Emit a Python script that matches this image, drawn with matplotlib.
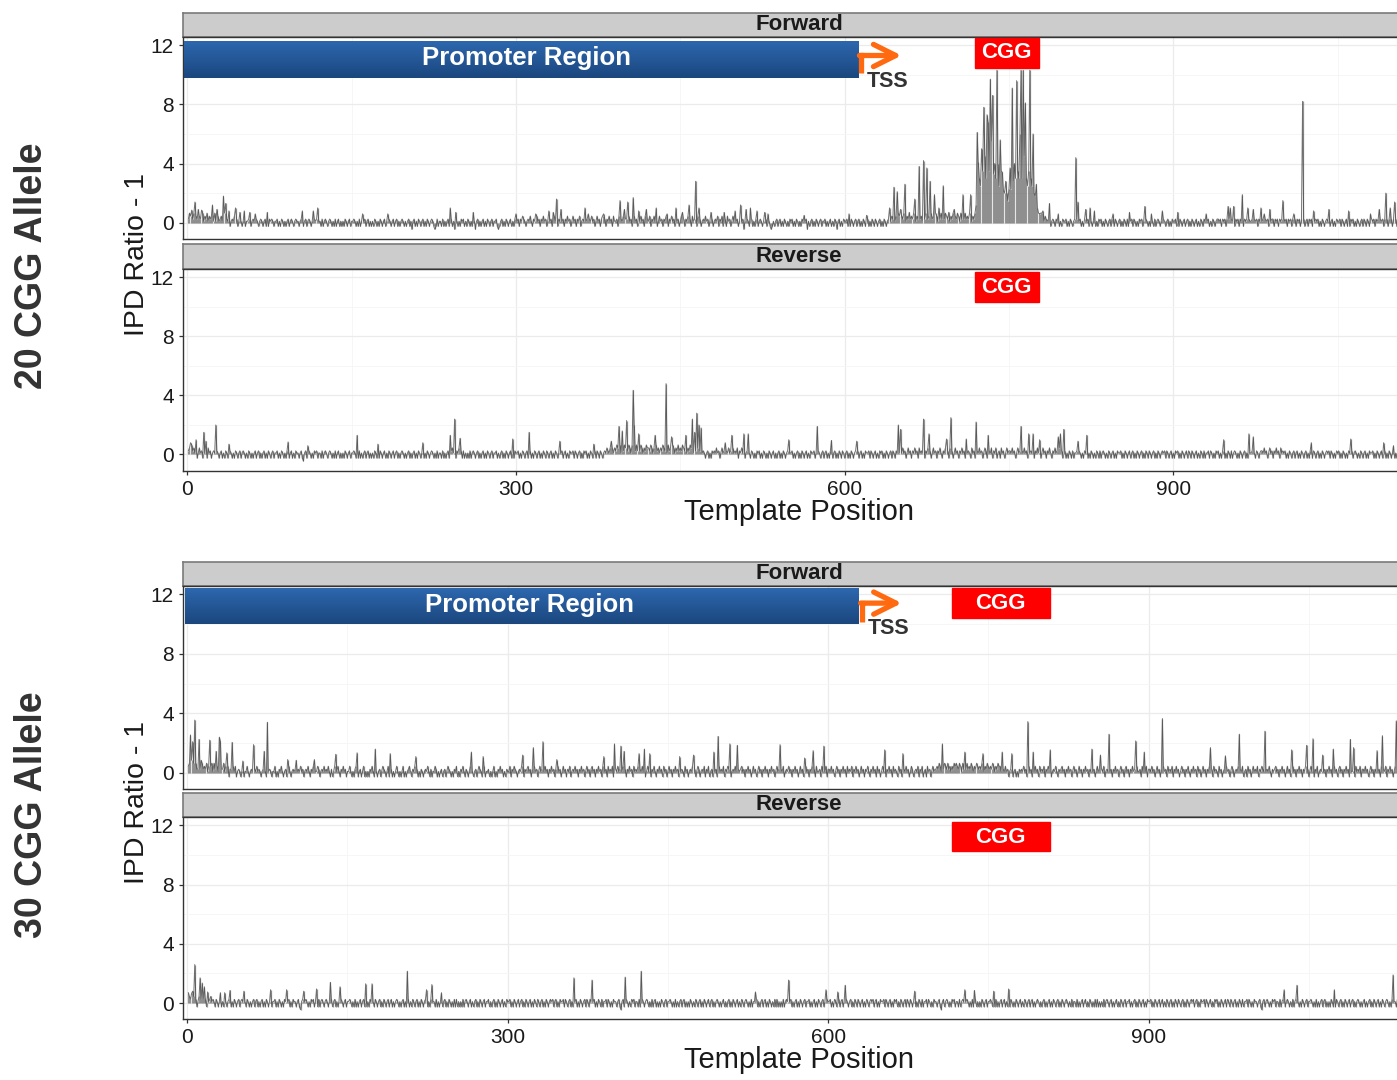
import numpy as np
import matplotlib
matplotlib.use('Agg')
import matplotlib.pyplot as plt
from matplotlib.colors import LinearSegmentedColormap
from matplotlib.patches import Rectangle

plt.rcParams['font.family'] = ['Liberation Sans', 'DejaVu Sans']

# ---- data (IPD ratio - 1 per template position) ----
# baseline strings: one digit per position, looked up in base_levels
base_levels = {'0': -0.45, '1': -0.25, '2': 0.1, '3': 0.25, '4': 0.45, '5': 0.65, '6': 0.85}
tf_base = [
    "3546352433 4365243524 3452523423 4235232312 3242312321 2312232123 2132123212 3121323212 2312132121 2312321232",
    "2123212312 3212132312 2131232123 2121312312 1213212312 2321213121 2312312121 3212132123 1213212312 3121232121",
    "2312023121 3212312132 1232101312 2131212312 3120321213 2312132121 3202312123 1213212312 2310123121 3212312132",
    "2313243212 3242132342 3132423124 2312423132 4231324231 2423132412 3242313242 3124231342 3132423142 2314232413",
    "3242312423 1324231423 2413242312 4231324213 2423142312 4231324231 4232142312 3242312431 2324132412 3142312423",
    "2312123021 3212312132 1232121312 2101212312 3121321213 2312132121 3212302123 1213212312 2312123121 3202312132",
    "2312132123 1231213212 3121321321 2312132123 3243424354 3435424353 4354243534 2435434253 4354243534 3543524354",
    "4354253435 3435424354 5555555555 5555555555 5555555555 5555555555 5555555555 5555555555 3243232123 2132312132",
    "2312132123 2312312132 2313212312 1323121321 2313213212 3121321312 2313212132 3121321213 2131232121 3212312132",
    "2312132123 1231213212 3121321321 2312132123 3231323132 3132313231 3231323132 2313231323 2313231323 3132313231",
    "3231323132 3132313231 2313231323 2312132123 2312312132 2313212312 1323121321 2313213212 3231323132 3132313231",
    "3231323132",
]
tf_spike_pos = [7, 10, 23, 27, 33, 35, 38, 44, 48, 52, 57, 62, 73, 105, 115, 119, 160, 183, 240, 245,
                261, 300, 318, 330, 334, 337, 341, 363, 366, 380, 395, 399, 402, 407, 412, 419, 428, 438, 446, 452,
                458, 464, 467, 478, 490, 500, 505, 510, 514, 520, 527, 530, 563, 604, 620, 641, 645, 648, 651, 655,
                659, 664, 668, 672, 675, 678, 682, 686, 690, 695, 700, 708, 715,
                778, 781, 787, 795, 811, 813, 820, 824, 828, 845, 860, 874, 880, 890, 904, 930, 950, 952, 955, 963,
                968, 973, 980, 983, 988, 1000, 1010, 1018, 1028, 1042, 1060, 1080, 1088, 1094, 1098, 1102]
tf_spike_val = [1.4, 0.9, 1.2, 0.9, 1.8, 1.3, 0.8, 1.0, 0.7, 0.8, 0.7, 0.6, 0.7, 0.8, 0.8, 1.0, 0.6, 0.6, 1.0, 0.7,
                0.7, 0.6, 0.6, 0.8, 0.7, 1.6, 0.9, 1.0, 0.6, 0.6, 1.5, 0.9, 1.4, 1.7, 0.8, 0.9, 1.0, 0.6, 1.0, 0.7,
                1.2, 2.8, 1.0, 0.7, 0.7, 0.8, 1.2, 0.9, 1.0, 0.8, 0.7, 0.6, 0.5, 0.6, 0.5, 1.0, 2.4, 2.1, 0.9, 2.6,
                0.7, 1.6, 3.8, 4.2, 3.7, 2.8, 1.9, 1.0, 2.5, 0.7, 0.9, 1.9, 1.9,
                0.6, 0.8, 1.3, 0.6, 4.4, 1.4, 0.9, 1.0, 0.8, 0.6, 0.7, 1.1, 0.6, 0.8, 0.7, 0.6, 1.1, 1.0, 1.1, 1.9,
                1.0, 0.9, 1.0, 0.6, 0.9, 1.5, 0.6, 8.2, 0.8, 0.9, 0.8, 0.6, 0.9, 2.0, 1.0, 1.4]
# forward strand inside the CGG repeat, positions 720..776
tf_cgg_start = 720
tf_cgg_val = [1.2, 6.1, 4.1, 3.0, 2.5, 5.0, 3.5, 7.8, 4.5, 3.0, 7.3, 6.8, 3.5, 9.7, 5.5, 8.6, 3.3, 4.0, 3.0, 10.3,
              4.0, 2.5, 5.6, 3.5, 3.4, 2.2, 2.0, 2.8, 2.0, 1.5, 2.3, 3.7, 2.3, 9.1, 2.8, 4.0, 3.0, 9.6, 3.5, 3.0,
              6.0, 10.3, 3.0, 10.3, 4.5, 8.1, 3.0, 2.5, 3.5, 10.3, 3.0, 2.5, 6.0, 2.0, 1.8, 2.6, 1.0]

tr_base = [
    "3425342312 4231323142 3123213212 3121321232 1213212312 3212132121 2312312123 1213212312 2312132121 3212312132",
    "2123102312 3212132312 2131232123 2121312312 1213212312 2321213121 2312312121 3212132123 1213212312 3121232121",
    "2312123121 3212312132 1232121312 2131212312 3423132423 1312121312 3212312123 1213212312 2312123121 3212312132",
    "2312132123 1231213212 3121321321 2312132123 2312312132 2313212312 1323121321 2313213212 3243243424 3543524354",
    "4354253435 3435424354 4354243534 2435434253 4354243534 3543524354 4243242312 3212312132 3242312423 1324231423",
    "2413242312 3121321213 2312132121 3212312123 1213212312 2312123121 3212312132 2312132123 1231213212 3121321321",
    "2312132123 2312312132 2313212312 1323121321 2313213212 3242312423 1324231423 2413242312 4231324213 2423142312",
    "4231324231 4232142312 3242312431 2324132412 3142312423 3242312423 1324231423 2413242312 4231324213 2423142312",
    "3121321312 2313212132 3121321213 2131232121 3212312132 2312132123 1231213212 3121321321 2312132123 2313212312",
    "1323121321 2313213212 3121321312 2313212132 3121321213 2131232121 3212312132 2312132123 3242312423 1324231423",
    "2312132123 1231213212 3121321321 2312132123 2313212132 3121321213 2131232121 3212312132 2312132123 1231213212",
    "3121321321",
]
tr_spike_pos = [3, 8, 15, 17, 26, 38, 92, 110, 155, 174, 215, 240, 244, 249, 297, 312, 340, 371, 387, 394,
                397, 401, 407, 408, 412, 427, 437, 442, 455, 461, 463, 465, 467, 469, 491, 497, 508, 512, 549, 575,
                588, 611, 649, 651, 672, 677, 693, 697, 711, 720, 731, 761, 768, 772, 778, 795, 797, 800, 813, 821,
                946, 969, 973, 1026, 1062, 1092, 1101]
tr_spike_val = [0.8, 1.0, 1.5, 0.9, 2.0, 0.7, 0.85, 0.6, 1.3, 0.7, 0.8, 1.3, 2.4, 1.1, 1.05, 1.5, 0.9, 0.7, 0.9, 1.9,
                1.6, 2.3, 4.35, 2.0, 1.4, 1.3, 4.8, 1.2, 1.3, 2.4, 1.5, 2.8, 2.0, 1.8, 0.8, 1.3, 1.4, 1.4, 1.0, 1.9,
                0.95, 0.9, 2.0, 1.7, 2.4, 1.4, 1.05, 2.5, 1.05, 2.2, 1.3, 1.9, 1.4, 1.4, 1.0, 1.2, 1.4, 1.7, 0.9, 1.3,
                1.0, 1.4, 1.2, 0.8, 1.05, 0.8, 0.6]

bf_base = [
    "4546354533 4365343524 4452534423 4335242413 3242412321 2412242123 2132423212 3121423212 2412132421 2312421232",
    "3123242312 3242132412 2431232423 2421312412 4213242312 2421213421 2312412121 3242132123 1243212412 3121242121",
    "2412123421 3242312132 1232421312 2431212312 3124321213 2412132421 3212412123 1243212412 2312124121 3242312132",
    "2413243212 3242132342 3132423124 2312423132 4231324231 2423132412 3242313242 3124231342 3132423142 2314232413",
    "3242312423 1324231423 2413242312 4231324213 2423142312 4231324231 4232142312 3242312431 2324132412 3142312423",
    "2413243212 3242132342 3132423124 2312423132 4231324231 2423132412 3242313242 3124231342 3132423142 2314232413",
    "3242312423 1324231423 2413242312 4231324213 2423142312 4231324231 4232142312 3242312431 2324132412 3142312423",
    "3435424354 3534243545 4354253435 3435424354 3435424354 3435424354 4243242312 3212312132 3242312423 1324231423",
    "2413243212 3242132342 3132423124 2312423132 4231324231 2423132412 3242313242 3124231342 3132423142 2314232413",
    "3242312423 1324231423 2413242312 4231324213 2423142312 4231324231 4232142312 3242312431 2324132412 3142312423",
    "2413243212 3242132342 3132423124 2312423132 4231324231 2423132412 3242313242 3124231342 3132423142 2314232413",
    "3242312423 1324231423 2413242312 4231324213",
]
bf_spike_pos = [3, 5, 7, 11, 21, 27, 30, 31, 37, 42, 52, 62, 72, 75, 94, 102, 119, 139, 159, 176,
                190, 214, 266, 277, 314, 324, 333, 346, 390, 400, 406, 409, 423, 428, 433, 461, 474, 493, 497, 508,
                515, 555, 578, 586, 596, 653, 670, 707, 728, 745, 763, 772, 787, 792, 808, 847, 855, 863, 888, 896,
                913, 958, 972, 985, 1009, 1034, 1048, 1054, 1063, 1073, 1089, 1092, 1114, 1119, 1132]
bf_spike_val = [2.55, 2.1, 3.55, 2.25, 2.2, 1.45, 2.4, 2.15, 1.35, 2.05, 0.8, 1.9, 1.45, 3.4, 0.9, 0.85, 0.9, 1.25, 1.35, 1.6,
                1.3, 1.1, 1.4, 1.1, 1.2, 1.7, 2.1, 0.9, 1.1, 1.95, 1.8, 1.45, 1.3, 1.6, 1.3, 1.1, 1.2, 1.4, 2.45, 1.95,
                1.85, 1.9, 1.0, 1.5, 1.8, 1.55, 1.3, 1.95, 1.4, 1.3, 1.4, 1.3, 3.45, 1.4, 1.55, 1.6, 1.2, 2.6, 2.15, 1.4,
                3.65, 1.7, 1.15, 2.6, 2.8, 1.55, 1.85, 2.3, 1.2, 1.6, 2.25, 1.7, 1.5, 2.5, 3.5]

br_base = [
    "3435343312 4231323142 3423213212 3121321232 1213212312 3212132121 2312312123 1213212312 2312132121 3212312132",
    "2123102312 3212132312 2131232123 2121312312 1213212312 2321213121 2312312121 3212132123 1213212312 3121232121",
    "2312123121 3212312132 1232121312 2131212312 3121321213 1312121312 3212312123 1213212312 2312123121 3212312132",
    "2312132123 1231213212 3121321321 2312132123 2312312132 2313212312 1323121321 2313213212 3121321312 2313212132",
    "2123102312 3212132312 2131232123 2121312312 1213212312 2321213121 2312312121 3212132123 1213212312 3121232121",
    "2312123121 3212312132 1232121312 2131212312 3121321213 1312121312 3212312123 1213212312 2312123121 3212312132",
    "2312132123 1231213212 3121321321 2312132123 2312312132 2313212312 1323121321 2313213212 3121321312 2313212132",
    "2123102312 3212132312 2131232123 2121312312 1213212312 2321213121 2312312121 3212132123 1213212312 3121232121",
    "2312123121 3212312132 1232121312 2131212312 3121321213 1312121312 3212312123 1213212312 2312123121 3212312132",
    "2312132123 1231213212 3121321321 2312132123 2312312132 2313212312 1323121321 2313213212 3121321312 2313212132",
    "2123102312 3212132312 2131232123 2121312312 1213212312 2321213121 2312312121 3212132123 1213212312 3121232121",
    "2312123121 3212312132 1232121312 2131212312",
]
br_spike_pos = [1, 5, 7, 12, 14, 16, 19, 31, 35, 40, 53, 78, 93, 109, 121, 134, 143, 167, 173, 206,
                224, 229, 238, 362, 379, 410, 425, 532, 563, 598, 609, 616, 681, 728, 737, 755, 769, 1027, 1039, 1074,
                1129]
br_spike_val = [0.7, 0.8, 2.6, 1.7, 1.35, 1.1, 0.75, 0.7, 0.7, 0.85, 0.8, 0.9, 0.9, 0.8, 0.95, 1.4, 1.1, 1.3, 1.3, 2.15,
                0.9, 1.25, 0.7, 1.7, 1.55, 1.75, 2.15, 0.75, 1.55, 0.9, 0.75, 1.2, 0.8, 0.9, 0.85, 0.8, 0.95, 0.9, 1.2, 0.9,
                1.9]

y_ticks = [0, 4, 8, 12]
x_ticks = [0, 300, 600, 900]
allele_labels = ['20 CGG Allele', '30 CGG Allele']
strand_labels = ['Forward', 'Reverse']


def decode(rows):
    s = ''.join(rows).replace(' ', '')
    return np.array([base_levels[c] for c in s])


def build(rows, spos, sval, cgg_start=None, cgg_val=None):
    y = decode(rows)
    for p, v in zip(spos, sval, strict=True):
        y[p - 1] = v
    if cgg_val is not None:
        for i, v in enumerate(cgg_val):
            y[cgg_start - 1 + i] = v
    return np.arange(1, len(y) + 1), y


W, H = 1397, 1080
fig = plt.figure(figsize=(W / 100, H / 100), dpi=100)
RIGHT = 1415.3


def px_axes(left, top, right, bottom):
    return fig.add_axes([left / W, 1 - bottom / H, (right - left) / W, (bottom - top) / H])


blue = LinearSegmentedColormap.from_list('prom', ['#1b477e', '#2d67ae'])
ORANGE = '#ff6a10'


def strip(top, bottom, label):
    s = px_axes(182.7, top, RIGHT, bottom)
    s.set_facecolor('#cccccc')
    s.set_xticks([])
    s.set_yticks([])
    for sp in s.spines.values():
        sp.set_color('#7a7a7a')
        sp.set_linewidth(1.2)
    s.text(0.5, 0.5, label, transform=s.transAxes, ha='center', va='center',
           fontsize=16, fontweight='bold', color='#1a1a1a')


def panel(top, bottom, x, y, xlim, show_x):
    ax = px_axes(182.7, top, RIGHT, bottom)
    # bars from zero plus the connecting trace
    ax.vlines(x, 0, y, colors='#555555', lw=0.9, alpha=0.6, zorder=2)
    ax.plot(x, y, color='#444444', lw=0.7, alpha=0.75, zorder=2)
    ax.set_yticks(y_ticks)
    ax.set_yticks([2, 6, 10], minor=True)
    ax.set_xticks(x_ticks)
    ax.set_xticks([150, 450, 750, 1050], minor=True)
    ax.grid(which='major', color='#ebebeb', lw=0.9)
    ax.grid(which='minor', color='#f5f5f5', lw=0.6)
    ax.set_axisbelow(True)
    ax.tick_params(which='major', length=3, width=0.9, color='#333333',
                   labelsize=15, labelcolor='#1a1a1a', pad=3.5)
    ax.tick_params(which='minor', length=0)
    if not show_x:
        ax.tick_params(axis='x', length=0, labelbottom=False)
    for sp in ax.spines.values():
        sp.set_color('#333333')
        sp.set_linewidth(1.0)
    ax.set_xlim(*xlim)
    ax.set_ylim(-1.1, 12.55)
    return ax


def promoter(ax, x0, x1, y0, y1, tx, ty):
    grad = np.linspace(0, 1, 64).reshape(-1, 1)
    ax.imshow(grad, extent=[x0, x1, y0, y1], origin='lower', cmap=blue,
              aspect='auto', zorder=3, interpolation='bilinear')
    ax.text(tx, ty, 'Promoter Region', color='white', fontsize=18.5,
            fontweight='bold', ha='center', va='center', zorder=4)


def tss(ax, xv, y0, y1, xtip, tx, ty):
    ax.plot([xv, xv, xv + 3], [y0, y1, y1], color=ORANGE, lw=3.8,
            solid_capstyle='butt', solid_joinstyle='miter', zorder=4)
    ax.annotate('', xy=(xtip, y1), xytext=(xv - 1.5, y1),
                arrowprops=dict(arrowstyle='->,head_length=1.6,head_width=0.8',
                                color=ORANGE, lw=3.8, shrinkA=0, shrinkB=0),
                zorder=4)
    ax.text(tx, ty, 'TSS', fontsize=15.5, fontweight='bold', color='#333333',
            ha='center', va='center', zorder=4)


def cgg(ax, x0, x1, y0, y1, tx, ty):
    ax.add_patch(Rectangle((x0, y0), x1 - x0, y1 - y0, color='#ff0000', zorder=3))
    ax.text(tx, ty, 'CGG', color='white', fontsize=16, fontweight='bold',
            ha='center', va='center', zorder=4)


# ---- 20 CGG allele ----
top_xlim = (-4.2, 1120.9)
x1, y1 = build(tf_base, tf_spike_pos, tf_spike_val, tf_cgg_start, tf_cgg_val)
x2, y2 = build(tr_base, tr_spike_pos, tr_spike_val)

strip(12.7, 37, strand_labels[0])
a = panel(37, 239, x1, y1, top_xlim, False)
promoter(a, -3, 612.5, 9.8, 12.28, 310, 11.12)
tss(a, 615, 10.1, 11.3, 652, 639, 9.55)
cgg(a, 719, 777.4, 10.45, 12.48, 748, 11.5)
a.set_xlim(*top_xlim); a.set_ylim(-1.1, 12.55)

strip(244, 269.3, strand_labels[1])
b = panel(269.3, 470.7, x2, y2, top_xlim, True)
cgg(b, 719, 777.4, 10.3, 12.34, 748, 11.35)
b.set_xlim(*top_xlim); b.set_ylim(-1.1, 12.55)

# ---- 30 CGG allele ----
bot_xlim = (-4.3, 1149.8)
x3, y3 = build(bf_base, bf_spike_pos, bf_spike_val)
x4, y4 = build(br_base, br_spike_pos, br_spike_val)

strip(561.7, 586, strand_labels[0])
c = panel(586, 789.3, x3, y3, bot_xlim, False)
promoter(c, -2, 629, 10.03, 12.43, 320, 11.3)
tss(c, 632, 10.1, 11.4, 669, 657, 9.7)
cgg(c, 716, 807.8, 10.4, 12.4, 761, 11.35)
c.set_xlim(*bot_xlim); c.set_ylim(-1.1, 12.55)

strip(792.7, 817.3, strand_labels[1])
d = panel(817.3, 1019.3, x4, y4, bot_xlim, True)
cgg(d, 716, 807.8, 10.24, 12.23, 761, 11.2)
d.set_xlim(*bot_xlim); d.set_ylim(-1.1, 12.55)

# ---- labels ----
for yc in (254, 802.6):
    fig.text(137 / W, 1 - yc / H, 'IPD Ratio - 1', rotation=90, fontsize=20.5,
             color='#1a1a1a', ha='center', va='center')
for yc in (512, 1060.5):
    fig.text(799 / W, 1 - yc / H, 'Template Position', fontsize=21,
             color='#1a1a1a', ha='center', va='center')
for yc, lab in zip((266, 815), allele_labels):
    fig.text(32 / W, 1 - yc / H, lab, rotation=90, fontsize=27, fontweight='bold',
             color='#333333', ha='center', va='center')

fig.savefig('out.png', dpi=100)
